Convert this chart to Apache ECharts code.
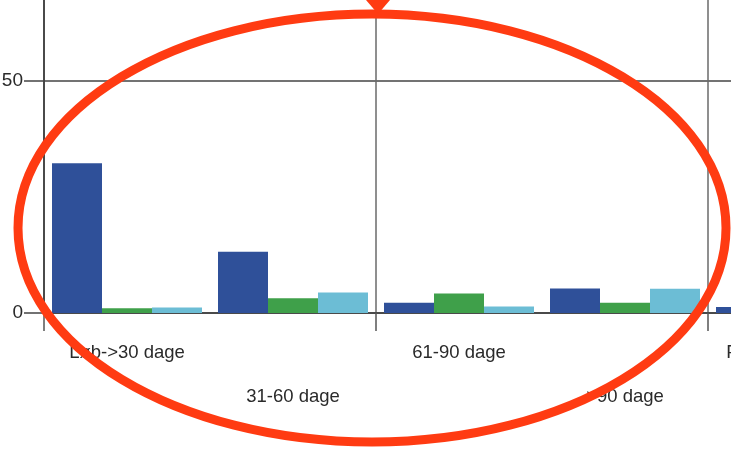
<!DOCTYPE html>
<html>
<head>
<meta charset="utf-8">
<script src="https://cdn.jsdelivr.net/npm/echarts@6/dist/echarts.min.js"></script>
<style>
html,body{margin:0;padding:0;background:#fff;overflow:hidden;width:731px;height:461px}
#wrap{position:absolute;left:0;top:0;width:731px;height:461px;overflow:hidden}
#c{position:absolute;left:0;top:-200px;width:1000px;height:661px}
</style>
</head>
<body>
<div id="wrap"><div id="c"></div></div>
<script>
var categories = ['Løb->30 dage', '31-60 dage', '61-90 dage', '>90 dage', 'Forfaldne beløb'];
var seriesDarkBlue = [32.3, 13.2, 2.2, 5.3, 1.3];
var seriesGreen = [1.0, 3.2, 4.2, 2.2, null];
var seriesLightBlue = [1.2, 4.4, 1.4, 5.2, null];
var yTicks = [0, 50, 100];

var OFF = 200; // chart canvas is shifted up by this many pixels
var FONT = "'Liberation Sans', Arial, sans-serif";
var chart = echarts.init(document.getElementById('c'));
chart.setOption({
  backgroundColor: '#ffffff',
  animation: false,
  grid: { left: 44, right: 126, top: 49, bottom: 148, containLabel: false, outerBoundsMode: 'none' },
  xAxis: {
    type: 'category',
    data: categories,
    axisLine: { show: true, lineStyle: { color: '#4a4a4a', width: 2 } },
    axisTick: { show: true, interval: 1, length: 18, lineStyle: { color: '#555', width: 1.5 } },
    splitLine: { show: true, interval: 1, lineStyle: { color: '#6a6a6a', width: 1.5 } },
    axisLabel: {
      interval: 0, margin: 18, color: '#2a2a2a', fontSize: 18.5, fontFamily: FONT, lineHeight: 44,
      hideOverlap: false,
      formatter: function (v, i) { return i % 2 === 1 ? '\n' + v : v; }
    }
  },
  yAxis: {
    type: 'value',
    min: yTicks[0], max: yTicks[yTicks.length - 1], interval: 50,
    axisLine: { show: true, lineStyle: { color: '#333', width: 1.5 } },
    axisTick: { show: true, length: 20, lineStyle: { color: '#444', width: 1.5 } },
    splitLine: { show: true, lineStyle: { color: '#444', width: 1.5 } },
    axisLabel: { margin: 21, color: '#2a2a2a', fontSize: 19, fontFamily: FONT }
  },
  series: [
    { type: 'bar', data: seriesDarkBlue, barWidth: 50, barGap: '0%', itemStyle: { color: '#2f5099' } },
    { type: 'bar', data: seriesGreen, barWidth: 50, barGap: '0%', itemStyle: { color: '#3fa04a' } },
    { type: 'bar', data: seriesLightBlue, barWidth: 50, barGap: '0%', itemStyle: { color: '#6cbdd5' } }
  ],
  graphic: [
    { type: 'ellipse', z: 100, shape: { cx: 372, cy: 228 + OFF, rx: 354, ry: 214 },
      style: { fill: 'none', stroke: '#ff3b12', lineWidth: 9 } },
    { type: 'polygon', z: 100, shape: { points: [[366, OFF], [390, OFF], [378, OFF + 14]] },
      style: { fill: '#ff3b12' } }
  ]
});
</script>
</body>
</html>
